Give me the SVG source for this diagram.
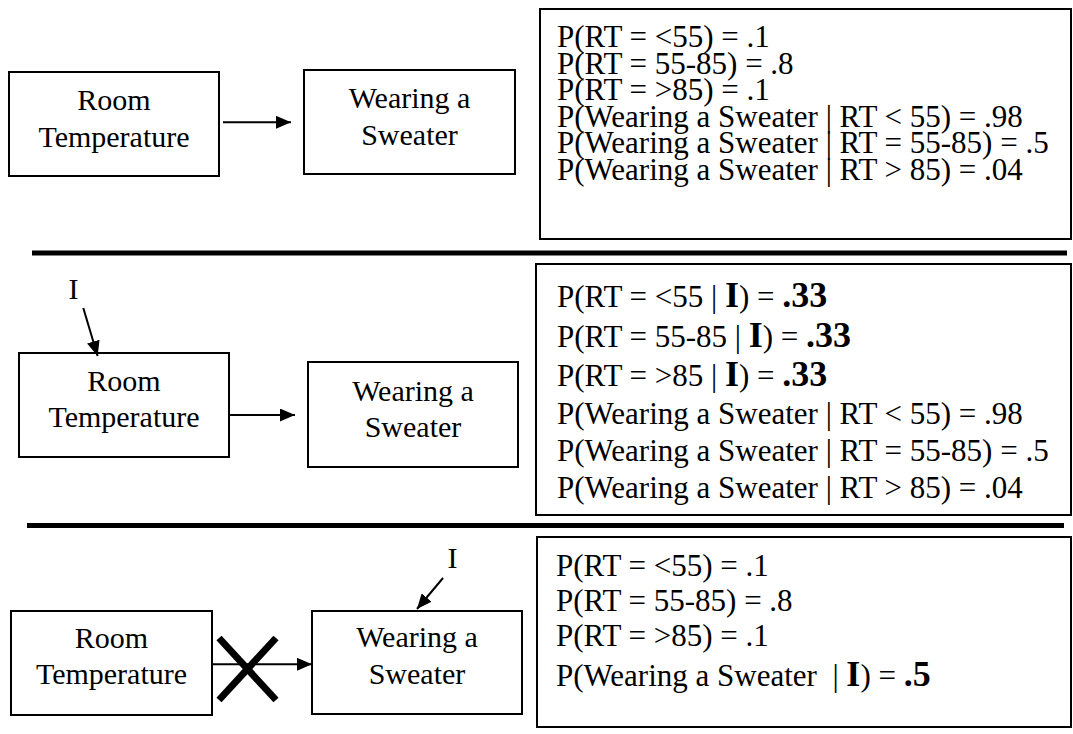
<svg xmlns="http://www.w3.org/2000/svg" width="1073" height="734" viewBox="0 0 1073 734">
  <style>
    text { font-family: "Liberation Serif", "Times New Roman", serif; fill: #000; }
    .node rect { fill: #fff; stroke: #000; stroke-width: 2; }
    .lbl { font-size: 30px; text-anchor: middle; }
    .prob { fill: #fff; stroke: #000; stroke-width: 2; }
    .pt { font-size: 31px; }
    .big { font-size: 36px; font-weight: bold; }
    .rule { stroke: #000; stroke-width: 5; }
    .edge { stroke: #000; stroke-width: 2; fill: none; marker-end: url(#head); }
    .cross { stroke: #000; stroke-width: 7; }
  </style>
  <defs>
    <marker id="head" markerUnits="userSpaceOnUse" markerWidth="15" markerHeight="13" refX="15" refY="6.5" orient="auto">
      <path d="M0,0 L15,6.5 L0,13 z" fill="#000"/>
    </marker>
  </defs>
  <rect width="1073" height="734" fill="#fff"/>

  <!-- Section 1: unconditioned network -->
  <g id="rt1" class="node">
    <rect x="9" y="72" width="210" height="104"/>
    <text class="lbl" x="114" y="110">Room</text>
    <text class="lbl" x="114" y="147">Temperature</text>
  </g>
  <g id="ws1" class="node">
    <rect x="304" y="70" width="211" height="104"/>
    <text class="lbl" x="409.5" y="108">Wearing a</text>
    <text class="lbl" x="409.5" y="145">Sweater</text>
  </g>
  <g id="table1">
    <rect class="prob" x="540" y="9" width="531" height="230"/>
    <text class="pt" x="557" y="47">P(RT = &lt;55) = .1</text>
    <text class="pt" x="557" y="73.5">P(RT = 55-85) = .8</text>
    <text class="pt" x="557" y="100">P(RT = &gt;85) = .1</text>
    <text class="pt" x="557" y="126.5">P(Wearing a Sweater | RT &lt; 55) = .98</text>
    <text class="pt" x="557" y="153">P(Wearing a Sweater | RT = 55-85) = .5</text>
    <text class="pt" x="557" y="179.5">P(Wearing a Sweater | RT &gt; 85) = .04</text>
  </g>

  <line class="rule" x1="32" y1="253" x2="1067" y2="253"/>

  <!-- Section 2: intervention on Room Temperature -->
  <g id="i2">
    <text class="lbl" x="73.5" y="299">I</text>
  </g>
  <g id="rt2" class="node">
    <rect x="19" y="353" width="210" height="104"/>
    <text class="lbl" x="124" y="391">Room</text>
    <text class="lbl" x="124" y="427">Temperature</text>
  </g>
  <g id="ws2" class="node">
    <rect x="308" y="362" width="210" height="105"/>
    <text class="lbl" x="413" y="401">Wearing a</text>
    <text class="lbl" x="413" y="437">Sweater</text>
  </g>
  <g id="table2">
    <rect class="prob" x="536" y="264" width="535" height="251"/>
    <text class="pt" x="557" y="307">P(RT = &lt;55 | <tspan class="big">I</tspan>) = <tspan class="big">.33</tspan></text>
    <text class="pt" x="557" y="347">P(RT = 55-85 | <tspan class="big">I</tspan>) = <tspan class="big">.33</tspan></text>
    <text class="pt" x="557" y="386">P(RT = &gt;85 | <tspan class="big">I</tspan>) = <tspan class="big">.33</tspan></text>
    <text class="pt" x="557" y="424">P(Wearing a Sweater | RT &lt; 55) = .98</text>
    <text class="pt" x="557" y="461">P(Wearing a Sweater | RT = 55-85) = .5</text>
    <text class="pt" x="557" y="498">P(Wearing a Sweater | RT &gt; 85) = .04</text>
  </g>

  <line class="rule" x1="27" y1="525.5" x2="1064" y2="525.5"/>

  <!-- Section 3: intervention on Wearing a Sweater -->
  <g id="i3">
    <text class="lbl" x="452.5" y="568">I</text>
  </g>
  <g id="rt3" class="node">
    <rect x="11" y="611" width="201" height="104"/>
    <text class="lbl" x="111.5" y="648">Room</text>
    <text class="lbl" x="111.5" y="684">Temperature</text>
  </g>
  <g id="ws3" class="node">
    <rect x="312" y="611" width="210" height="103"/>
    <text class="lbl" x="417" y="647">Wearing a</text>
    <text class="lbl" x="417" y="684">Sweater</text>
  </g>
  <g id="table3">
    <rect class="prob" x="537" y="537" width="534" height="190"/>
    <text class="pt" x="556" y="576">P(RT = &lt;55) = .1</text>
    <text class="pt" x="556" y="611">P(RT = 55-85) = .8</text>
    <text class="pt" x="556" y="646">P(RT = &gt;85) = .1</text>
    <text class="pt" x="556" y="686" xml:space="preserve">P(Wearing a Sweater  | <tspan class="big">I</tspan>) = <tspan class="big">.5</tspan></text>
  </g>

  <!-- Connectors -->
  <g id="connectors">
    <line class="edge" x1="223" y1="122.3" x2="291" y2="122.3"/>
    <line class="edge" x1="83.3" y1="308" x2="97.6" y2="356"/>
    <line class="edge" x1="230" y1="415" x2="295" y2="415"/>
    <line class="edge" x1="443" y1="578" x2="417" y2="609"/>
    <line class="edge" x1="212" y1="664.3" x2="312" y2="664.3"/>
    <line class="cross" x1="219" y1="638" x2="276" y2="700"/>
    <line class="cross" x1="276" y1="638" x2="219" y2="700"/>
  </g>
</svg>
